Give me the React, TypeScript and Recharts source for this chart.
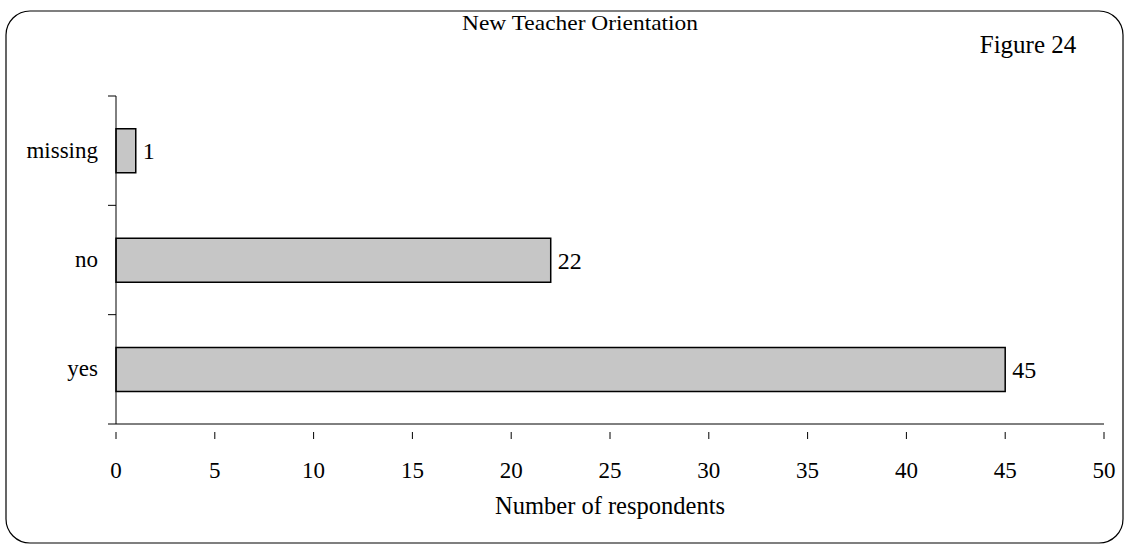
import React from 'react';
import { BarChart, Bar, XAxis, YAxis, LabelList } from 'recharts';

const categories = ['missing', 'no', 'yes'];
const respondents = [1, 22, 45];
const xTicks = [0, 5, 10, 15, 20, 25, 30, 35, 40, 45, 50];

const data = categories.map((name, i) => ({ name, value: respondents[i] }));

const FONT = '"Liberation Serif", "DejaVu Serif", serif';
const W = 1130;
const H = 546;
const TOP = 96;
const AXIS_Y = 424;
const BAND = (AXIS_Y - TOP) / categories.length;

function YTick({ x, y, payload, index }: any) {
  return (
    <g>
      <line x1={x} x2={x + 8} y1={y - BAND / 2} y2={y - BAND / 2} stroke="#000" strokeWidth={1} />
      {index === categories.length - 1 && (
        <line x1={x} x2={x + 8} y1={y + BAND / 2} y2={y + BAND / 2} stroke="#000" strokeWidth={1} />
      )}
      <text x={x - 10} y={y} dy={7} textAnchor="end" fontFamily={FONT} fontSize={23} fill="#000">
        {payload.value}
      </text>
    </g>
  );
}

function XTick({ x, y, payload }: any) {
  return (
    <g>
      <line x1={x} x2={x} y1={y} y2={y + 7} stroke="#000" strokeWidth={1} />
      <text x={x} y={y + 46} textAnchor="middle" fontFamily={FONT} fontSize={23} fill="#000">
        {payload.value}
      </text>
    </g>
  );
}

export default function App() {
  return (
    <div style={{ position: 'absolute', left: 0, top: 0, width: W, height: H, background: '#fff' }}>
      <svg width={W} height={H} style={{ position: 'absolute', left: 0, top: 0 }}>
        <rect x={6} y={11} width={1117} height={532} rx={24} ry={24} fill="none" stroke="#000" strokeWidth={1.2} />
        <text x={580} y={30} textAnchor="middle" fontFamily={FONT} fontSize={22} fill="#000" textLength={236} lengthAdjust="spacingAndGlyphs">
          New Teacher Orientation
        </text>
        <text x={1028} y={53} textAnchor="middle" fontFamily={FONT} fontSize={25} fill="#000">
          Figure 24
        </text>
        <text x={610} y={514} textAnchor="middle" fontFamily={FONT} fontSize={25} fill="#000" textLength={230} lengthAdjust="spacingAndGlyphs">
          Number of respondents
        </text>
      </svg>
      <div style={{ position: 'absolute', left: 0, top: 0 }}>
        <BarChart
          width={W}
          height={H}
          data={data}
          layout="vertical"
          margin={{ top: TOP, right: 26, bottom: H - AXIS_Y - 60, left: 0 }}
          barCategoryGap="30%"
        >
          <XAxis
            type="number"
            domain={[0, 50]}
            ticks={xTicks}
            interval={0}
            axisLine={{ stroke: '#000' }}
            tickLine={false}
            tick={<XTick />}
            height={60}
          />
          <YAxis
            type="category"
            dataKey="name"
            width={116}
            axisLine={{ stroke: '#000' }}
            tickLine={false}
            tick={<YTick />}
            interval={0}
          />
          <Bar dataKey="value" fill="#c6c6c6" stroke="#000" strokeWidth={1.5} isAnimationActive={false}>
            <LabelList
              dataKey="value"
              position="right"
              offset={7}
              fontFamily={FONT}
              fontSize={24}
              fill="#000"
            />
          </Bar>
        </BarChart>
      </div>
    </div>
  );
}
